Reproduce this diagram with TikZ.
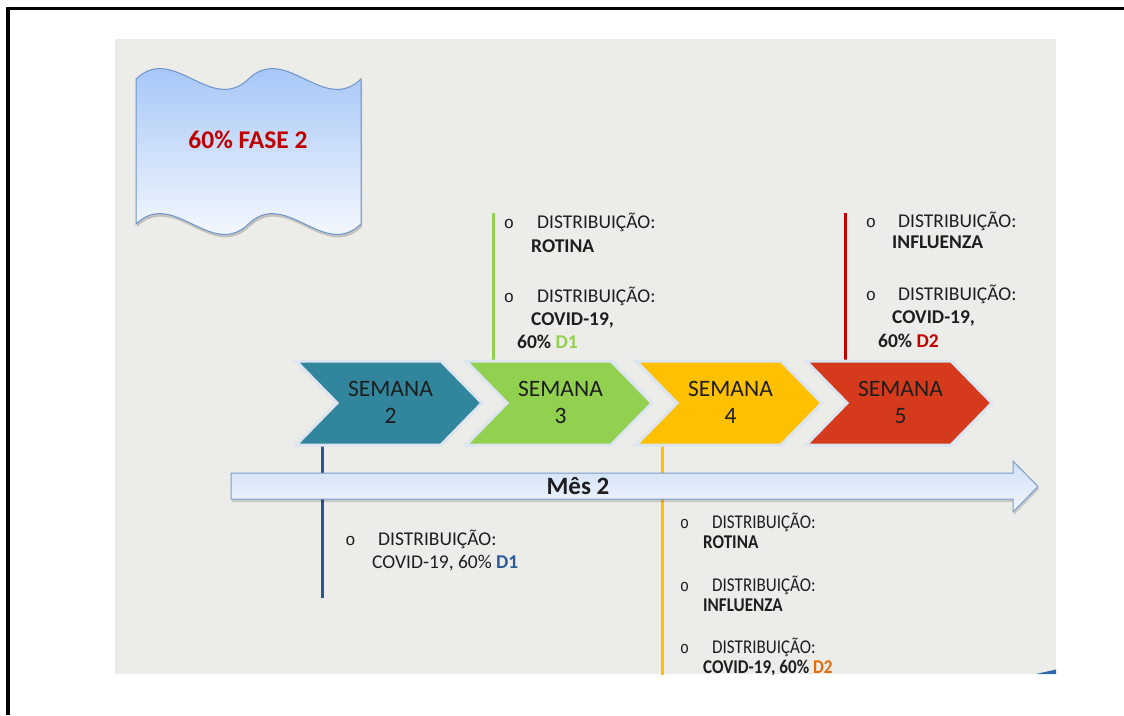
\documentclass[tikz,border=0pt]{standalone}
\usepackage{fontspec}
\setmainfont{Carlito}
\newfontfamily\bulletfont{Liberation Mono}
\usetikzlibrary{calc}
\definecolor{panelcol}{HTML}{ECECE8}
\definecolor{tealc}{HTML}{31859C}
\definecolor{greenc}{HTML}{92D050}
\definecolor{yellowc}{HTML}{FFC000}
\definecolor{redc}{HTML}{D63A1C}
\definecolor{glowc}{HTML}{DCE5F0}
\definecolor{txtc}{HTML}{1E1E1E}
\definecolor{darkred}{HTML}{C00000}
\definecolor{lineblue}{HTML}{2F5496}
\definecolor{dblue}{HTML}{2E5C9A}
\definecolor{orangec}{HTML}{E36C09}
\definecolor{flagtop}{HTML}{9CC0F6}
\definecolor{flagedge}{HTML}{6F94CC}
\definecolor{arrowtop}{HTML}{CFDFF7}
\definecolor{arrowbot}{HTML}{F3F7FD}
\definecolor{arrowedge}{HTML}{7B9DCC}
\definecolor{sliver}{HTML}{2E6AAE}
\tikzset{
  chevron/.pic={\path[pic actions] (-1,-1) -- (144,-1) -- (185,41) -- (144,83) -- (-1,83) -- (40,41) -- cycle;},
  chevstyle/.style={draw=glowc, line width=3pt, line join=miter},
  semtext/.style={anchor=base, inner sep=0pt, text=txtc, font=\fontsize{23.5}{27}\selectfont},
  txt/.style={anchor=base west, inner sep=0pt, text=txtc, font=\fontsize{19.5}{23}\selectfont},
  btxt/.style={txt, font=\fontsize{19.5}{23}\selectfont\bfseries},
  bul/.style={anchor=base, inner sep=0pt, text=txtc, font=\bulletfont\fontsize{17}{19}\selectfont},
  vline/.style={line width=3pt},
}
\begin{document}
\begin{tikzpicture}[x=1pt,y=-1pt]
\useasboundingbox (0,0) rectangle (1124,715);
\fill[white] (0,0) rectangle (1124,715);
\draw[line width=3.5pt] (8,715) -- (8,8.5) -- (1124,8.5);
\begin{scope}
\clip (115,39) rectangle (1056,674);
\fill[panelcol] (115,39) rectangle (1056,674);
% flag shadow
\fill[black, opacity=0.18] (137,82) .. controls (174.5,46) and (212,118) .. (249.5,82)
  .. controls (287,46) and (324.5,118) .. (362,82) -- (362,227)
  .. controls (324.5,263) and (287,191) .. (249.5,227)
  .. controls (212,263) and (174.5,191) .. (137,227) -- cycle;
% flag
\path[top color=flagtop, bottom color=white, draw=flagedge, line width=1pt]
  (136,79) .. controls (173.5,43) and (211,115) .. (248.5,79)
  .. controls (286,43) and (323.5,115) .. (361,79) -- (361,224)
  .. controls (323.5,260) and (286,188) .. (248.5,224)
  .. controls (211,260) and (173.5,188) .. (136,224) -- cycle;
\node[anchor=base, inner sep=0pt, text=darkred, font=\fontsize{25.5}{30}\selectfont\bfseries] (fase) at (248,148) {60\% FASE 2};
% vertical lines
\coordinate (b1) at (322.5,440); \coordinate (b2) at (322.5,598);
\coordinate (g1) at (493,213); \coordinate (g2) at (493,364);
\coordinate (y1) at (662,442); \coordinate (y2) at (662,676);
\coordinate (r1) at (845,213); \coordinate (r2) at (845,364);
\draw[vline, lineblue] (b1) -- (b2);
\draw[vline, greenc] (g1) -- (g2);
\draw[vline, yellowc] (y1) -- (y2);
\draw[vline, darkred] (r1) -- (r2);
% chevrons
\pic[chevstyle, fill=tealc] at (297,362) {chevron};
\pic[chevstyle, fill=greenc] at (467,362) {chevron};
\pic[chevstyle, fill=yellowc] at (637,362) {chevron};
\pic[chevstyle, fill=redc] at (807,362) {chevron};
\node[semtext] (s2a) at (390.5,396) {SEMANA};
\node[semtext] (s2b) at (390.5,423) {2};
\node[semtext] (s3a) at (560.5,396) {SEMANA};
\node[semtext] (s3b) at (560.5,423) {3};
\node[semtext] (s4a) at (730.5,396) {SEMANA};
\node[semtext] (s4b) at (730.5,423) {4};
\node[semtext] (s5a) at (900.5,396) {SEMANA};
\node[semtext] (s5b) at (900.5,423) {5};
% month arrow
\fill[black, opacity=0.15] (232,476) -- (1014,476) -- (1014,464) -- (1039,489) -- (1014,515) -- (1014,502) -- (232,502) -- cycle;
\path[top color=arrowtop, bottom color=arrowbot, draw=arrowedge, line width=1pt]
  (231,473) -- (1013,473) -- (1013,461) -- (1038,486.5) -- (1013,512) -- (1013,499) -- (231,499) -- cycle;
\node[anchor=base, inner sep=0pt, text=txtc, font=\fontsize{25}{30}\selectfont\bfseries] (mes) at (578,494) {Mês 2};
% block A (week 2, below)
\node[bul] (a0) at (350.5,545) {o};
\node[txt] (a1) at (378,545) {DISTRIBUIÇÃO:};
\node[txt] (a2) at (372,568) {COVID-19, 60\% \textcolor{dblue}{\bfseries D1}};
% block B (week 3, above)
\node[bul] (bb0) at (509,228) {o};
\node[txt] (bb1) at (537,228) {DISTRIBUIÇÃO:};
\node[btxt] (bb2) at (531,252) {ROTINA};
\node[bul] (bb3) at (509,302) {o};
\node[txt] (bb4) at (537,302) {DISTRIBUIÇÃO:};
\node[btxt] (bb5) at (531,325) {COVID-19,};
\node[btxt] (bb6) at (517,348) {60\% \textcolor{greenc}{D1}};
% block C (week 5, above)
\node[bul] (c0) at (871,227) {o};
\node[txt] (c1) at (898,227) {DISTRIBUIÇÃO:};
\node[btxt] (c2) at (892,248) {INFLUENZA};
\node[bul] (c3) at (871,300) {o};
\node[txt] (c4) at (898,300) {DISTRIBUIÇÃO:};
\node[btxt] (c5) at (892,323) {COVID-19,};
\node[btxt] (c6) at (878,347) {60\% \textcolor{darkred}{D2}};
% block D (week 4, below)
\node[bul, xscale=0.875] (d0) at (684.5,528) {o};
\node[txt, xscale=0.875] (d1) at (712,528) {DISTRIBUIÇÃO:};
\node[btxt, xscale=0.875] (d2) at (703,548) {ROTINA};
\node[bul, xscale=0.875] (d3) at (684.5,591) {o};
\node[txt, xscale=0.875] (d4) at (712,591) {DISTRIBUIÇÃO:};
\node[btxt, xscale=0.875] (d5) at (703,611) {INFLUENZA};
\node[bul, xscale=0.875] (d6) at (684.5,653) {o};
\node[txt, xscale=0.875] (d7) at (712,653) {DISTRIBUIÇÃO:};
\node[btxt, xscale=0.875] (d8) at (703,673) {COVID-19, 60\% \textcolor{orangec}{D2}};
% sliver bottom right
\fill[sliver] (1036,674) -- (1056,669.5) -- (1056,674) -- cycle;
\end{scope}
\end{tikzpicture}
\end{document}
